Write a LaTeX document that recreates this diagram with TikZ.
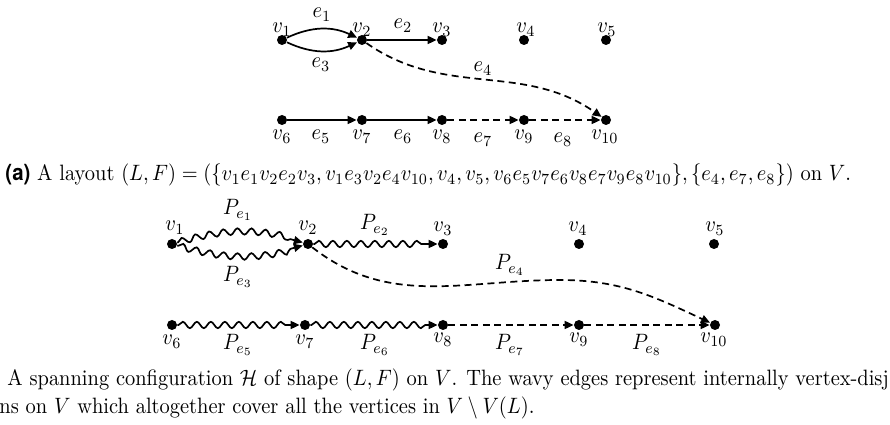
\documentclass[tikz,border=0pt]{standalone}
\usepackage{graphicx}
\usepackage{fontspec}
\newfontfamily\capfont{TeX Gyre Heros}
\usetikzlibrary{arrows.meta,decorations.pathmorphing}
\newlength\pxu
\setlength\pxu{0.45pt}
\newcommand\sq[1]{\scalebox{0.92}[1]{#1}}
\tikzset{
  dot/.style={circle,fill=black,inner sep=0pt,minimum size=10\pxu},
  lbl/.style={anchor=base,inner sep=0pt},
  arr/.style={-{Triangle[length=4pt,width=3.6pt]},line width=1.7\pxu},
  dsh/.style={dash pattern=on 7\pxu off 4.5\pxu},
  wavy/.style={decorate,decoration={snake,amplitude=3.2\pxu,segment length=14\pxu,post length=10\pxu,pre length=1\pxu}},
}
\begin{document}
\begin{tikzpicture}[x=\pxu,y=\pxu]
\useasboundingbox (0,0) rectangle (890,-425);
% ---------- (a) ----------
\node[dot] (a1) at (282,-40) {};
\node[dot] (a2) at (362,-40) {};
\node[dot] (a3) at (442,-40) {};
\node[dot] (a4) at (524,-40) {};
\node[dot] (a5) at (606,-40) {};
\node[dot] (a6) at (282,-120) {};
\node[dot] (a7) at (362,-120) {};
\node[dot] (a8) at (442,-120) {};
\node[dot] (a9) at (524,-120) {};
\node[dot] (a10) at (606,-120) {};
\node[lbl] (la1) at (282,-33) {\sq{$v_1$}};
\node[lbl] (la2) at (362,-33) {\sq{$v_2$}};
\node[lbl] (la3) at (442,-33) {\sq{$v_3$}};
\node[lbl] (la4) at (526,-33) {\sq{$v_4$}};
\node[lbl] (la5) at (607,-33) {\sq{$v_5$}};
\node[lbl] (la6) at (282,-140) {\sq{$v_6$}};
\node[lbl] (la7) at (362,-140) {\sq{$v_7$}};
\node[lbl] (la8) at (442,-140) {\sq{$v_8$}};
\node[lbl] (la9) at (524,-140) {\sq{$v_9$}};
\node[lbl] (la10) at (605,-140) {\sq{$v_{10}$}};
\node[lbl] (le1) at (322,-18) {\sq{$e_1$}};
\node[lbl] (le2) at (403,-29) {\sq{$e_2$}};
\node[lbl] (le3) at (321,-68) {\sq{$e_3$}};
\node[lbl] (le4) at (483,-72) {\sq{$e_4$}};
\node[lbl] (le5) at (321,-140) {\sq{$e_5$}};
\node[lbl] (le6) at (403,-140) {\sq{$e_6$}};
\node[lbl] (le7) at (483,-143) {\sq{$e_7$}};
\node[lbl] (le8) at (563,-143) {\sq{$e_8$}};
\draw[arr] (a1) to[bend left=25] (a2);
\draw[arr] (a1) to[bend right=25] (a2);
\draw[arr] (a2) -- (a3);
\draw[arr,dsh] (a2) to[out=-35,in=145] (a10);
\draw[arr] (a6) -- (a7);
\draw[arr] (a7) -- (a8);
\draw[arr,dsh] (a8) -- (a9);
\draw[arr,dsh] (a9) -- (a10);
\node[lbl,anchor=base west] (capa) at (5,-181) {\sq{{\capfont\bfseries (a)} A layout $(L,F)=(\{v_1e_1v_2e_2v_3, v_1e_3v_2e_4v_{10}, v_4, v_5, v_6e_5v_7e_6v_8e_7v_9e_8v_{10}\},\{e_4,e_7,e_8\})$ on $V$.}};
% ---------- (b) ----------
\node[dot] (b1) at (172,-244) {};
\node[dot] (b2) at (308,-244) {};
\node[dot] (b3) at (443,-244) {};
\node[dot] (b4) at (579,-244) {};
\node[dot] (b5) at (714,-244) {};
\node[dot] (b6) at (172,-325) {};
\node[dot] (b7) at (305,-325) {};
\node[dot] (b8) at (443,-325) {};
\node[dot] (b9) at (579,-325) {};
\node[dot] (b10) at (715,-325) {};
\node[lbl] (lb1) at (175,-231) {\sq{$v_1$}};
\node[lbl] (lb2) at (308,-231) {\sq{$v_2$}};
\node[lbl] (lb3) at (443,-232) {\sq{$v_3$}};
\node[lbl] (lb4) at (578,-232) {\sq{$v_4$}};
\node[lbl] (lb5) at (715,-232) {\sq{$v_5$}};
\node[lbl] (lb6) at (172,-345) {\sq{$v_6$}};
\node[lbl] (lb7) at (305,-345) {\sq{$v_7$}};
\node[lbl] (lb8) at (443,-343) {\sq{$v_8$}};
\node[lbl] (lb9) at (579,-343) {\sq{$v_9$}};
\node[lbl] (lb10) at (714,-343) {\sq{$v_{10}$}};
\node[lbl] (lp1) at (238,-215) {\sq{$P_{e_1}$}};
\node[lbl] (lp2) at (375,-230) {\sq{$P_{e_2}$}};
\node[lbl] (lp3) at (238,-282) {\sq{$P_{e_3}$}};
\node[lbl] (lp4) at (510,-270) {\sq{$P_{e_4}$}};
\node[lbl] (lp5) at (238,-350) {\sq{$P_{e_5}$}};
\node[lbl] (lp6) at (375,-350) {\sq{$P_{e_6}$}};
\node[lbl] (lp7) at (510,-350) {\sq{$P_{e_7}$}};
\node[lbl] (lp8) at (647,-350) {\sq{$P_{e_8}$}};
\coordinate (m) at (560,-280);
\draw[arr,wavy] (b1) to[bend left=16] (b2);
\draw[arr,wavy] (b1) to[bend right=16] (b2);
\draw[arr,wavy] (b2) -- (b3);
\draw[arr,dsh] (b2) to[out=-38,in=180] (m) to[out=0,in=155] (b10);
\draw[arr,wavy] (b6) -- (b7);
\draw[arr,wavy] (b7) -- (b8);
\draw[arr,dsh] (b8) -- (b9);
\draw[arr,dsh] (b9) -- (b10);
\node[lbl,anchor=base west] (capb1) at (7,-386) {\sq{A spanning configuration $\mathcal{H}$ of shape $(L,F)$ on $V$. The wavy edges represent internally vertex-disj}};
\node[lbl,anchor=base west] (capb2) at (-1,-414) {\sq{ns on $V$ which altogether cover all the vertices in $V\setminus V(L)$.}};
\end{tikzpicture}
\end{document}
